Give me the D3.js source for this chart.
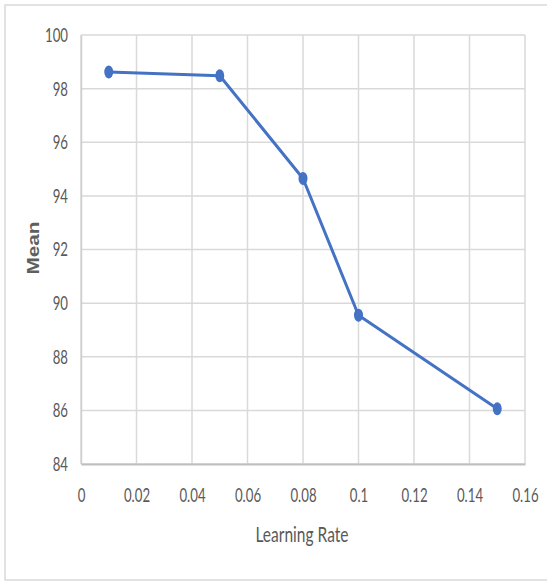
<!DOCTYPE html>
<html>
<head>
<meta charset="utf-8">
<script src="https://cdn.jsdelivr.net/npm/d3@7"></script>
<style>
  html, body { margin: 0; padding: 0; background: #fff; }
</style>
</head>
<body>
<svg id="chart" width="547" height="582"></svg>
<script>
// Learning rate vs. mean
const learningRates = [0.01, 0.05, 0.08, 0.1, 0.15];
const meanValues = [98.62, 98.48, 94.65, 89.55, 86.06];
const xTicks = [0, 0.02, 0.04, 0.06, 0.08, 0.1, 0.12, 0.14, 0.16];
const yTicks = [84, 86, 88, 90, 92, 94, 96, 98, 100];

const svg = d3.select("#chart");
const W = 547, H = 582;
const margin = { left: 81, right: 22, top: 35, bottom: 118 };
const fontFam = "Lato, sans-serif";
const narrow = 0.66; // horizontal squeeze for the narrow label face

// Outer frame
svg.append("rect").attr("x", 5).attr("y", 5).attr("width", W + 10).attr("height", 575)
  .attr("fill", "#fff").attr("stroke", "#d9d9d9").attr("stroke-width", 1.5);

const x = d3.scaleLinear().domain([0, 0.16]).range([margin.left, W - margin.right]);
const y = d3.scaleLinear().domain([84, 100]).range([H - margin.bottom, margin.top]);

// Gridlines
const grid = svg.append("g");
grid.selectAll("line.h").data(yTicks).join("line")
  .attr("x1", x(0)).attr("x2", x(0.16))
  .attr("y1", d => y(d)).attr("y2", d => y(d))
  .attr("stroke", "#d9d9d9").attr("stroke-width", 1.5);
grid.selectAll("line.v").data(xTicks).join("line")
  .attr("y1", y(84)).attr("y2", y(100))
  .attr("x1", d => x(d)).attr("x2", d => x(d))
  .attr("stroke", "#d9d9d9").attr("stroke-width", 1.5);

function squeeze(sel) {
  sel.each(function () {
    const t = d3.select(this);
    const tx = +(t.attr("x") || 0);
    t.attr("x", tx / narrow).attr("transform", `scale(${narrow},1)`);
  });
}

// Axes
const xAxis = svg.append("g").attr("transform", `translate(0,${y(84)})`)
  .call(d3.axisBottom(x).tickValues(xTicks).tickSize(0).tickPadding(24).tickFormat(d => String(d)));
xAxis.select(".domain").attr("stroke", "#bfbfbf").attr("stroke-width", 2);
xAxis.selectAll("text").attr("fill", "#595959").style("font-size", "20px").style("font-family", fontFam)
  .call(squeeze);

const yAxis = svg.append("g").attr("transform", `translate(${x(0)},0)`)
  .call(d3.axisLeft(y).tickValues(yTicks).tickSize(0).tickPadding(13).tickFormat(d => String(d)));
yAxis.select(".domain").attr("stroke", "#d0d0d0").attr("stroke-width", 1.5);
yAxis.selectAll("text").attr("fill", "#595959").style("font-size", "20px").style("font-family", fontFam)
  .call(squeeze);

// Axis titles
svg.append("text").attr("transform", `translate(302,542) scale(0.74,1)`).attr("text-anchor", "middle")
  .attr("fill", "#595959").style("font-family", fontFam).style("font-size", "21px")
  .text("Learning Rate");
svg.append("text").attr("transform", "translate(39,248) rotate(-90) scale(1.3,1)").attr("text-anchor", "middle")
  .attr("fill", "#5f5f5f").style("font-family", "'Liberation Sans', Arial, sans-serif")
  .style("font-weight", "bold").style("font-size", "16px")
  .text("Mean");

// Series
const pts = learningRates.map((r, i) => [r, meanValues[i]]);
svg.append("path").datum(pts)
  .attr("fill", "none").attr("stroke", "#4472c4").attr("stroke-width", 3)
  .attr("stroke-linejoin", "round")
  .attr("d", d3.line().x(d => x(d[0])).y(d => y(d[1])));
svg.selectAll("ellipse.pt").data(pts).join("ellipse")
  .attr("cx", d => x(d[0])).attr("cy", d => y(d[1]))
  .attr("rx", 4.5).attr("ry", 6.5).attr("fill", "#4472c4");
</script>
</body>
</html>
